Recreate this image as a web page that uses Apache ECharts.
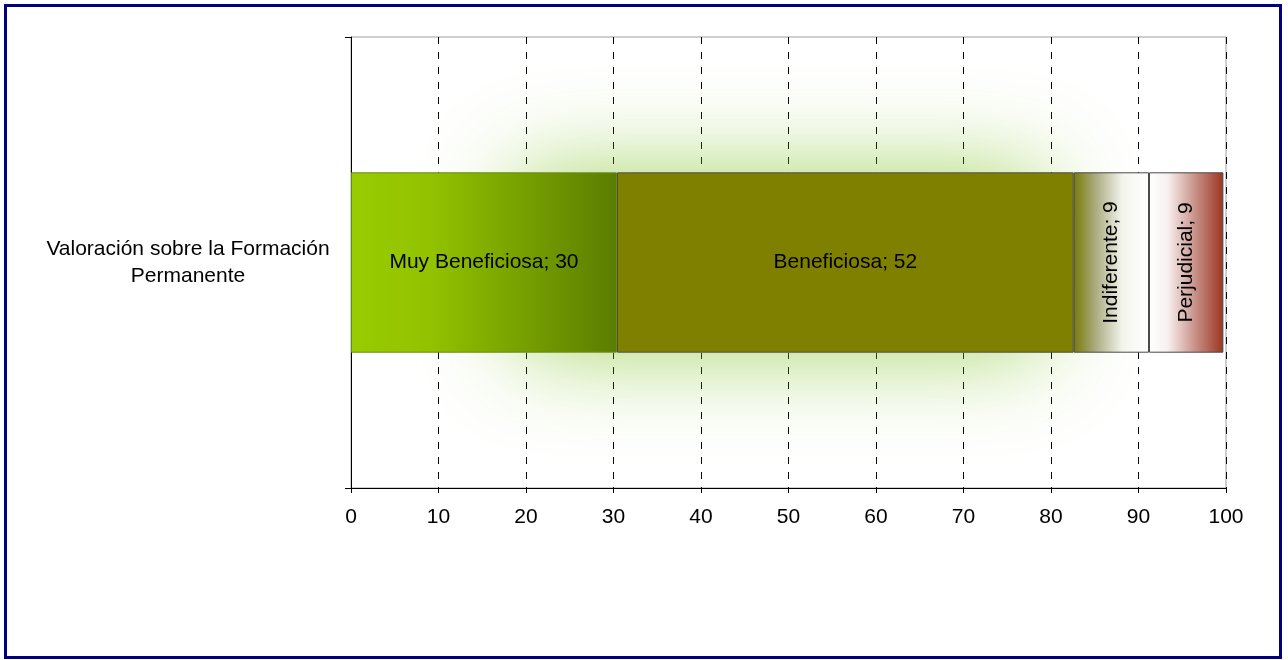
<!DOCTYPE html>
<html>
<head>
<meta charset="utf-8">
<script src="https://cdn.jsdelivr.net/npm/echarts@6/dist/echarts.min.js"></script>
<style>
html,body{margin:0;padding:0;background:#fff;}
#chart{position:absolute;left:0;top:0;width:1288px;height:660px;}
#frame{position:absolute;left:4px;top:4px;width:1278px;height:655px;box-sizing:border-box;border:3px solid #000080;pointer-events:none;}
</style>
</head>
<body>
<div id="chart"></div>
<div id="frame"></div>
<script>
// ---- data ----
const categories = ['Valoración sobre la Formación Permanente'];
const seriesNames = ['Muy Beneficiosa', 'Beneficiosa', 'Indiferente', 'Perjudicial'];
const muyBeneficiosa = [30.4];
const beneficiosa = [52.2];
const indiferente = [8.6];
const perjudicial = [8.5];
const xTicks = [0, 10, 20, 30, 40, 50, 60, 70, 80, 90, 100];

const FONT = 'Liberation Sans, Arial, sans-serif';
const chart = echarts.init(document.getElementById('chart'), null, {renderer: 'canvas'});

const lg = (stops) => new echarts.graphic.LinearGradient(0, 0, 1, 0,
  stops.map(s => ({offset: s[0], color: s[1]})));

const fills = [
  lg([[0, '#99cc00'], [0.3, '#92c200'], [1, '#5a7d00']]),
  '#808000',
  lg([[0, '#7a7a0a'], [0.3, '#adad84'], [0.65, '#f4f4ee'], [1, '#ffffff']]),
  lg([[0, '#ffffff'], [0.25, '#f8f0f0'], [0.65, '#c48a80'], [1, '#9c3522']])
];
const values = [muyBeneficiosa, beneficiosa, indiferente, perjudicial];

const labelBase = {show: true, position: 'inside', color: '#000', fontFamily: FONT, fontSize: 21,
  formatter: p => p.seriesName + '; ' + Math.round(p.value)};

const realSeries = seriesNames.map((name, i) => ({
  name: name,
  type: 'bar',
  stack: 'total',
  barWidth: '40%',
  barGap: '-100%',
  z: 3,
  data: values[i],
  itemStyle: {color: fills[i], borderColor: i === 0 ? '#6a8a10' : '#4a4a4a', borderWidth: 1},
  label: Object.assign({}, labelBase, i >= 2 ? {rotate: 90, align: 'center', verticalAlign: 'middle'} : {}),
  emphasis: {disabled: true}
}));

const glowSeries = [
  {type: 'bar', stack: 'glow', barWidth: '40%', barGap: '-100%', z: 1, silent: true,
   data: [19], itemStyle: {color: 'rgba(0,0,0,0)'}, label: {show: false}},
  {type: 'bar', stack: 'glow', barWidth: '40%', barGap: '-100%', z: 1, silent: true,
   data: [60], itemStyle: {color: '#ffffff', shadowBlur: 95, shadowColor: 'rgba(130,195,40,0.7)'},
   label: {show: false}}
];

chart.setOption({
  animation: false,
  grid: {left: 351, right: 62, top: 37, bottom: 172, show: true, borderColor: '#a0a0a0', borderWidth: 1, backgroundColor: 'transparent'},
  xAxis: {
    type: 'value', min: xTicks[0], max: xTicks[xTicks.length - 1], interval: 10,
    axisLine: {show: true, lineStyle: {color: '#000', width: 1}},
    axisTick: {show: true, length: 5, lineStyle: {color: '#000'}},
    axisLabel: {color: '#000', fontFamily: FONT, fontSize: 21, margin: 19},
    splitLine: {show: true, lineStyle: {color: '#000', type: [7, 8], width: 1}}
  },
  yAxis: {
    type: 'category', data: categories,
    axisLine: {show: true, lineStyle: {color: '#000', width: 1}},
    axisTick: {show: true, length: 6, lineStyle: {color: '#000'}},
    axisLabel: {color: '#000', fontFamily: FONT, fontSize: 21, lineHeight: 27, align: 'center', margin: 163,
      formatter: v => v.replace(/ (\S+)$/, '\n$1')},
    splitLine: {show: false}
  },
  series: glowSeries.concat(realSeries)
});
</script>
</body>
</html>
